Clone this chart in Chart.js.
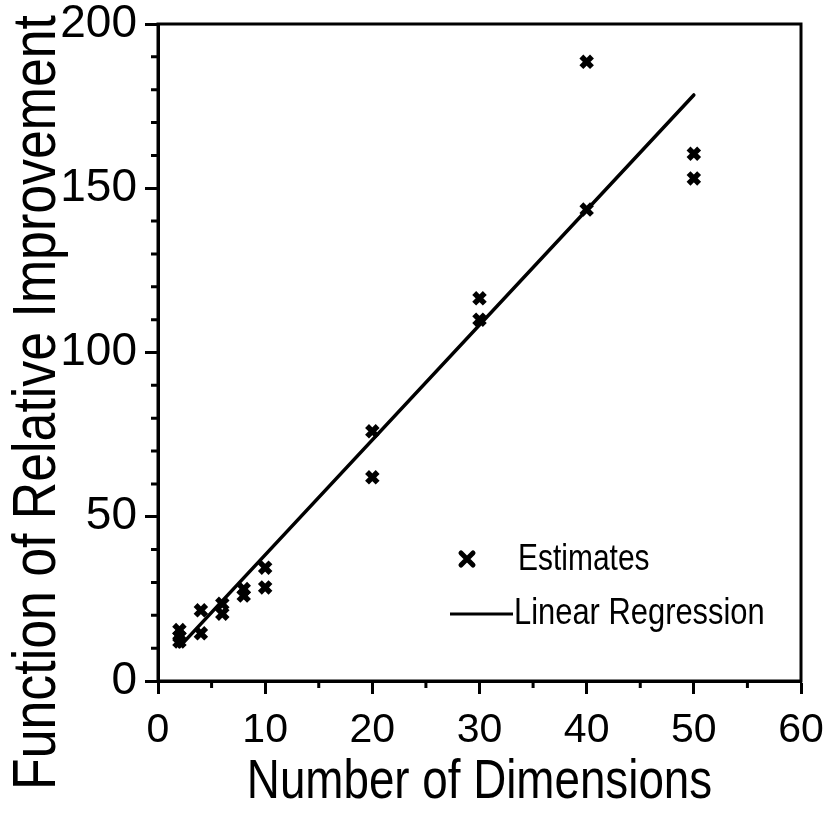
<!DOCTYPE html>
<html><head><meta charset="utf-8">
<script src="https://cdn.jsdelivr.net/npm/chart.js@4"></script>
<style>html,body{margin:0;padding:0;background:#fff}#wrap{width:832px;height:814px}</style>
</head><body><div id="wrap"><canvas id="c" width="832" height="814"></canvas></div>
<script>
const estX = [2, 2, 2, 4, 4, 6, 6, 8, 8, 10, 10, 20, 20, 30, 30, 40, 40, 50, 50];
const estY = [15.5, 13.5, 12, 21.5, 14.5, 23.5, 20.5, 28, 26, 34.5, 28.5, 76, 62, 116.5, 110, 143.5, 188.5, 160.5, 153];
const regX = [2, 50];
const regY = [10.4, 178.4];
const xTicks = [0, 10, 20, 30, 40, 50, 60];
const yTicks = [0, 50, 100, 150, 200];
const xMinor = [5, 15, 25, 35, 45, 55];
const yMinor = [10, 20, 30, 40, 60, 70, 80, 90, 110, 120, 130, 140, 160, 170, 180, 190];
const legendLabels = ['Estimates', 'Linear Regression'];
const xTitle = 'Number of Dimensions';
const yTitle = 'Function of Relative Improvement';

const SANS = "'Liberation Sans', Arial, Helvetica, sans-serif";

function narrowText(ctx, text, x, y, size, sx, align) {
  ctx.save();
  ctx.font = size + 'px ' + SANS;
  const w = ctx.measureText(text).width * sx;
  let x0 = x;
  if (align === 'center') x0 = x - w / 2;
  ctx.translate(x0, y);
  ctx.scale(sx, 1);
  ctx.textAlign = 'left';
  ctx.fillText(text, 0, 0);
  ctx.restore();
}

const framePlugin = {
  id: 'frame',
  afterDraw(chart) {
    const ctx = chart.ctx, a = chart.chartArea;
    const xs = chart.scales.x, ys = chart.scales.y;
    ctx.save();
    ctx.strokeStyle = '#000';
    ctx.lineWidth = 3;
    ctx.strokeRect(a.left, a.top, a.right - a.left, a.bottom - a.top);
    ctx.beginPath();
    xMinor.forEach(v => { const p = xs.getPixelForValue(v); ctx.moveTo(p, a.bottom); ctx.lineTo(p, a.bottom + 7); });
    yMinor.forEach(v => { const p = ys.getPixelForValue(v); ctx.moveTo(a.left, p); ctx.lineTo(a.left - 7, p); });
    ctx.stroke();
    ctx.restore();

    ctx.save();
    ctx.fillStyle = '#000';
    ctx.textBaseline = 'alphabetic';
    // x title
    narrowText(ctx, xTitle, (a.left + a.right) / 2, 798, 56, 0.817, 'center');
    // y title (rotated)
    ctx.save();
    ctx.translate(55, 790);
    ctx.rotate(-Math.PI / 2);
    narrowText(ctx, yTitle, 0, 0, 62, 0.836, 'left');
    ctx.restore();
    // legend
    ctx.strokeStyle = '#000';
    const mx = 467, my = 559, r = 6;
    ctx.lineWidth = 5;
    ctx.lineCap = 'round';
    ctx.beginPath();
    ctx.moveTo(mx - r, my - r); ctx.lineTo(mx + r, my + r);
    ctx.moveTo(mx + r, my - r); ctx.lineTo(mx - r, my + r);
    ctx.stroke();
    narrowText(ctx, legendLabels[0], 518, 570, 37, 0.81, 'left');
    ctx.lineWidth = 3;
    ctx.lineCap = 'butt';
    ctx.beginPath();
    ctx.moveTo(450, 614); ctx.lineTo(513, 614);
    ctx.stroke();
    narrowText(ctx, legendLabels[1], 514, 624, 37, 0.835, 'left');
    ctx.restore();
  }
};

new Chart(document.getElementById('c'), {
  type: 'scatter',
  data: {
    datasets: [
      {
        label: legendLabels[0],
        data: estX.map((x, i) => ({ x: x, y: estY[i] })),
        pointStyle: 'crossRot',
        pointRadius: 7.5,
        pointBorderWidth: 5.5,
        borderColor: '#000',
        backgroundColor: '#000',
        showLine: false
      },
      {
        label: legendLabels[1],
        data: regX.map((x, i) => ({ x: x, y: regY[i] })),
        showLine: true,
        pointRadius: 0,
        borderWidth: 3.5,
        borderColor: '#000',
        borderCapStyle: 'round'
      }
    ]
  },
  options: {
    responsive: false,
    animation: false,
    devicePixelRatio: 1,
    layout: { padding: { top: 24, right: 31, left: 0, bottom: 0 } },
    plugins: { legend: { display: false }, tooltip: { enabled: false } },
    scales: {
      x: {
        type: 'linear', min: 0, max: 60,
        afterBuildTicks: s => { s.ticks = xTicks.map(v => ({ value: v })); },
        afterFit: s => { s.height = 133; s.paddingLeft = 0; s.paddingRight = 0; },
        ticks: { color: '#000', font: { family: SANS, size: 41, lineHeight: 1 }, padding: 16, maxRotation: 0 },
        grid: { display: true, drawOnChartArea: false, drawTicks: true, tickLength: 13, tickWidth: 3, tickColor: '#000' },
        border: { display: true, color: '#000', width: 3 },
        title: { display: false }
      },
      y: {
        type: 'linear', min: 0, max: 200,
        afterBuildTicks: s => { s.ticks = yTicks.map(v => ({ value: v })); },
        afterFit: s => { s.width = 158; s.paddingTop = 0; s.paddingBottom = 0; },
        ticks: { color: '#000', font: { family: SANS, size: 46, lineHeight: 1 }, padding: 8 },
        grid: { display: true, drawOnChartArea: false, drawTicks: true, tickLength: 13, tickWidth: 3, tickColor: '#000' },
        border: { display: true, color: '#000', width: 3 },
        title: { display: false }
      }
    }
  },
  plugins: [framePlugin]
});
</script></body></html>
